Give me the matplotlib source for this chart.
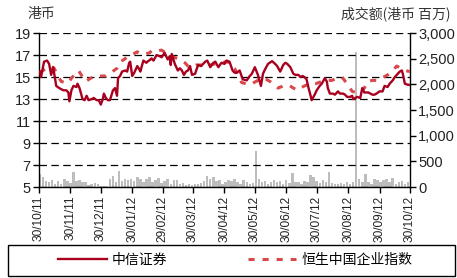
import matplotlib
matplotlib.use("Agg")
import matplotlib.pyplot as plt
import matplotlib.dates as mdates
from matplotlib.patches import Rectangle
import pandas as pd

# 中信证券 share price (HK$)
stock_dates = [
    "2011-10-31", "2011-11-01", "2011-11-04", "2011-11-07", "2011-11-09", "2011-11-11", "2011-11-13",
    "2011-11-16", "2011-11-19", "2011-11-21", "2011-11-23", "2011-11-26", "2011-11-28", "2011-11-29",
    "2011-12-01", "2011-12-03", "2011-12-06", "2011-12-07", "2011-12-09", "2011-12-12", "2011-12-14",
    "2011-12-16", "2011-12-18", "2011-12-21", "2011-12-23", "2011-12-26", "2011-12-28", "2011-12-30",
    "2012-01-01", "2012-01-02", "2012-01-04", "2012-01-06", "2012-01-08", "2012-01-11", "2012-01-13",
    "2012-01-15", "2012-01-16", "2012-01-18", "2012-01-20", "2012-01-23", "2012-01-25", "2012-01-27",
    "2012-01-28", "2012-01-30", "2012-02-01", "2012-02-04", "2012-02-06", "2012-02-07", "2012-02-10",
    "2012-02-13", "2012-02-14", "2012-02-17", "2012-02-18", "2012-02-20", "2012-02-23", "2012-02-26",
    "2012-02-28", "2012-03-02", "2012-03-05", "2012-03-07", "2012-03-08", "2012-03-09", "2012-03-12",
    "2012-03-15", "2012-03-17", "2012-03-19", "2012-03-21", "2012-03-23", "2012-03-25", "2012-03-27",
    "2012-03-29", "2012-04-01", "2012-04-04", "2012-04-07", "2012-04-11", "2012-04-13", "2012-04-16",
    "2012-04-19", "2012-04-21", "2012-04-24", "2012-04-27", "2012-04-30", "2012-05-02", "2012-05-05",
    "2012-05-08", "2012-05-10", "2012-05-12", "2012-05-15", "2012-05-18", "2012-05-22", "2012-05-25",
    "2012-05-27", "2012-05-30", "2012-06-02", "2012-06-05", "2012-06-07", "2012-06-09", "2012-06-12",
    "2012-06-16", "2012-06-19", "2012-06-21", "2012-06-24", "2012-06-27", "2012-06-29", "2012-07-01",
    "2012-07-04", "2012-07-07", "2012-07-09", "2012-07-12", "2012-07-14", "2012-07-16", "2012-07-18",
    "2012-07-20", "2012-07-22", "2012-07-24", "2012-07-25", "2012-07-28", "2012-07-30", "2012-08-02",
    "2012-08-04", "2012-08-07", "2012-08-09", "2012-08-10", "2012-08-12", "2012-08-15", "2012-08-17",
    "2012-08-20", "2012-08-22", "2012-08-25", "2012-08-27", "2012-08-29", "2012-09-01", "2012-09-03",
    "2012-09-04", "2012-09-06", "2012-09-08", "2012-09-11", "2012-09-13", "2012-09-15", "2012-09-19",
    "2012-09-23", "2012-09-25", "2012-09-27", "2012-09-30", "2012-10-03", "2012-10-05", "2012-10-08",
    "2012-10-10", "2012-10-13", "2012-10-15", "2012-10-18", "2012-10-20", "2012-10-22", "2012-10-23",
    "2012-10-25", "2012-10-28", "2012-10-30",
]
stock_price = [
    15.5, 15.0, 16.4, 16.5, 16.2, 15.2, 15.9,
    14.2, 14.0, 13.9, 13.8, 13.8, 13.6, 12.8,
    13.8, 14.2, 14.1, 14.4, 14.0, 13.0, 12.9,
    13.3, 12.9, 13.0, 13.1, 12.9, 12.9, 12.5,
    13.0, 13.5, 13.1, 12.9, 12.9, 13.8, 14.0,
    13.3, 14.9, 15.1, 15.5, 15.6, 15.5, 16.3,
    16.4, 15.1, 15.4, 16.0, 15.7, 15.5, 16.5,
    16.3, 16.4, 16.6, 16.7, 16.5, 17.0, 16.9,
    16.8, 17.2, 16.6, 16.9, 16.1, 17.1, 16.2,
    15.6, 15.8, 15.6, 15.2, 15.5, 15.6, 16.0,
    15.2, 15.3, 16.1, 16.0, 16.4, 16.5, 15.9,
    16.3, 16.4, 15.9, 16.3, 16.2, 16.5, 16.4,
    15.6, 15.4, 15.4, 15.6, 14.8, 14.7, 15.1,
    15.3, 15.9, 15.2, 14.2, 15.3, 15.7, 16.2,
    16.45, 16.2, 16.0, 15.5, 16.1, 16.3, 16.2,
    15.9, 15.3, 15.2, 15.2, 15.0, 15.1, 15.0,
    14.8, 14.0, 13.3, 12.9, 13.4, 13.8, 14.2,
    14.4, 14.9, 14.6, 14.0, 13.5, 13.5, 13.4,
    13.7, 13.5, 13.5, 13.4, 13.2, 13.2, 13.3,
    13.0, 13.1, 13.2, 13.1, 14.0, 13.6, 13.6,
    13.4, 13.4, 13.5, 13.7, 13.7, 14.2, 14.1,
    14.4, 14.7, 15.0, 15.3, 15.5, 15.6, 15.3,
    14.4, 14.3, 14.3,
]

# 恒生中国企业指数, rebased to the share price
index_dates = [
    "2011-10-31", "2011-11-03", "2011-11-06", "2011-11-10", "2011-11-14", "2011-11-17", "2011-11-21",
    "2011-11-25", "2011-11-28", "2011-12-01", "2011-12-05", "2011-12-08", "2011-12-12", "2011-12-15",
    "2011-12-20", "2011-12-25", "2011-12-30", "2012-01-04", "2012-01-08", "2012-01-12", "2012-01-15",
    "2012-01-18", "2012-01-22", "2012-01-26", "2012-01-31", "2012-02-04", "2012-02-08", "2012-02-12",
    "2012-02-16", "2012-02-19", "2012-02-24", "2012-02-28", "2012-03-03", "2012-03-07", "2012-03-11",
    "2012-03-15", "2012-03-19", "2012-03-22", "2012-03-25", "2012-03-29", "2012-04-02", "2012-04-07",
    "2012-04-11", "2012-04-16", "2012-04-21", "2012-04-26", "2012-05-01", "2012-05-05", "2012-05-10",
    "2012-05-14", "2012-05-17", "2012-05-21", "2012-05-25", "2012-05-29", "2012-06-02", "2012-06-06",
    "2012-06-10", "2012-06-14", "2012-06-18", "2012-06-22", "2012-06-27", "2012-07-02", "2012-07-07",
    "2012-07-11", "2012-07-14", "2012-07-18", "2012-07-23", "2012-07-29", "2012-08-04", "2012-08-09",
    "2012-08-14", "2012-08-19", "2012-08-24", "2012-08-29", "2012-09-03", "2012-09-07", "2012-09-11",
    "2012-09-15", "2012-09-18", "2012-09-23", "2012-09-27", "2012-10-02", "2012-10-08", "2012-10-13",
    "2012-10-17", "2012-10-21", "2012-10-25", "2012-10-30",
]
index_value = [
    15.4, 15.6, 15.8, 16.0, 15.8, 15.2, 14.6,
    14.5, 14.45, 14.9, 15.3, 15.6, 15.0, 14.6,
    14.9, 15.1, 15.1, 15.1, 15.3, 15.6, 15.8,
    16.4, 16.6, 16.9, 17.1, 17.3, 17.1, 17.1,
    17.2, 17.45, 17.4, 17.45, 17.2, 17.0, 16.8,
    16.7, 16.5, 16.3, 16.0, 15.9, 16.1, 16.1,
    16.0, 16.1, 16.2, 16.2, 16.4, 16.3, 15.8,
    15.0, 14.5, 14.4, 14.3, 14.5, 14.7, 14.9,
    14.8, 14.6, 14.3, 14.0, 14.2, 14.3, 14.0,
    13.8, 14.0, 14.2, 14.4, 14.4, 14.6, 14.7,
    14.7, 14.9, 15.0, 14.4, 13.7, 13.6, 13.55,
    14.0, 14.6, 14.7, 14.7, 14.9, 15.2, 15.6,
    16.0, 15.8, 15.6, 15.5,
]

# turnover (HK$ mn), one bar every 3 days from 31/10/11
volume_start = "2011-10-31"
volume = [
    260, 200, 120, 100, 140, 70, 110, 60, 150, 110,
    80, 300, 120, 130, 90, 100, 40, 60, 80, 60,
    20, 20, 20, 150, 220, 100, 320, 110, 150, 130,
    160, 120, 200, 150, 90, 160, 200, 100, 130, 170,
    80, 110, 150, 70, 140, 130, 60, 80, 50, 60,
    40, 70, 60, 80, 110, 210, 150, 200, 120, 140,
    60, 90, 140, 110, 160, 90, 70, 130, 90, 60,
    80, 700, 150, 90, 120, 60, 100, 140, 90, 110,
    60, 130, 80, 270, 100, 90, 60, 110, 90, 230,
    200, 120, 80, 140, 100, 290, 80, 60, 70, 80,
    60, 90, 70, 100, 2630, 160, 90, 260, 100, 70,
    150, 140, 90, 130, 160, 100, 170, 60, 90, 120,
    60, 90,
]

tick_dates = ["2011-10-30", "2011-11-30", "2011-12-30", "2012-01-30", "2012-02-29",
              "2012-03-30", "2012-04-30", "2012-05-30", "2012-06-30", "2012-07-30",
              "2012-08-30", "2012-09-30", "2012-10-30"]

num_font = ["Liberation Sans Narrow", "Liberation Sans", "DejaVu Sans"]
cjk_font = ["Noto Sans CJK SC", "DejaVu Sans"]

stock_x = pd.to_datetime(stock_dates)
index_x = pd.to_datetime(index_dates)
vol_x = pd.date_range(volume_start, periods=len(volume), freq="3D")
ticks = pd.to_datetime(tick_dates)

fig = plt.figure(figsize=(4.57, 2.78), dpi=100)
ax = fig.add_axes([0.0853, 0.327, 0.8117, 0.554])
ax2 = ax.twinx()

ax2.bar(vol_x, volume, width=2.4, color="#bdbdbd", linewidth=0)
ax2.set_ylim(0, 3000)
ax2.set_yticks(range(0, 3001, 500))
ax2.set_yticklabels([f"{v:,}" for v in range(0, 3001, 500)], family=num_font, fontsize=10.5)

ax.set_zorder(ax2.get_zorder() + 1)
ax.patch.set_visible(False)

ax.plot(index_x, index_value, color="#d9484a", lw=2.2, ls=(0, (2.0, 2.6)), label="恒生中国企业指数", zorder=3)
ax.plot(stock_x, stock_price, color="#a8001e", lw=1.7, label="中信证券", zorder=4)

ax.set_ylim(5, 19)
ax.set_yticks(range(5, 20, 2))
ax.set_yticklabels([str(v) for v in range(5, 20, 2)], family=num_font, fontsize=10.5)
ax.grid(axis="y", color="black", ls=(0, (6, 3.5)), lw=0.9)
ax.set_xlim(ticks[0], ticks[-1])
ax.set_xticks(ticks)
ax.xaxis.set_major_formatter(mdates.DateFormatter("%d/%m/%y"))
for lab in ax.get_xticklabels():
    lab.set_rotation(90)
    lab.set_family(num_font)
    lab.set_fontsize(8.6)

for a in (ax, ax2):
    a.spines["top"].set_visible(False)
    a.tick_params(length=4, width=1, color="black", labelcolor="#222222", pad=2)
ax.spines["left"].set_linewidth(1)
ax2.spines["right"].set_linewidth(1)
ax.spines["bottom"].set_linewidth(1)
ax2.spines["left"].set_visible(False)
ax2.spines["bottom"].set_visible(False)
ax.spines["right"].set_visible(False)

fig.text(0.061, 0.935, "港币", family=cjk_font, fontsize=10, color="#333333")
fig.text(0.985, 0.935, "成交额(港币 百万)", family=cjk_font, fontsize=10, color="#333333", ha="right")

# legend box spanning the figure width
fig.add_artist(Rectangle((0.0175, 0.008), 0.978, 0.112, transform=fig.transFigure,
                         fill=False, edgecolor="black", linewidth=1))
handles, labels = ax.get_legend_handles_labels()
leg = fig.legend(handles[::-1], labels[::-1], ncol=2, loc="center",
                 bbox_to_anchor=(0.515, 0.064), frameon=False, handlelength=3.5,
                 handletextpad=0.35, columnspacing=5.8,
                 prop={"family": cjk_font, "size": 10})

fig.savefig("out.png", dpi=100)
